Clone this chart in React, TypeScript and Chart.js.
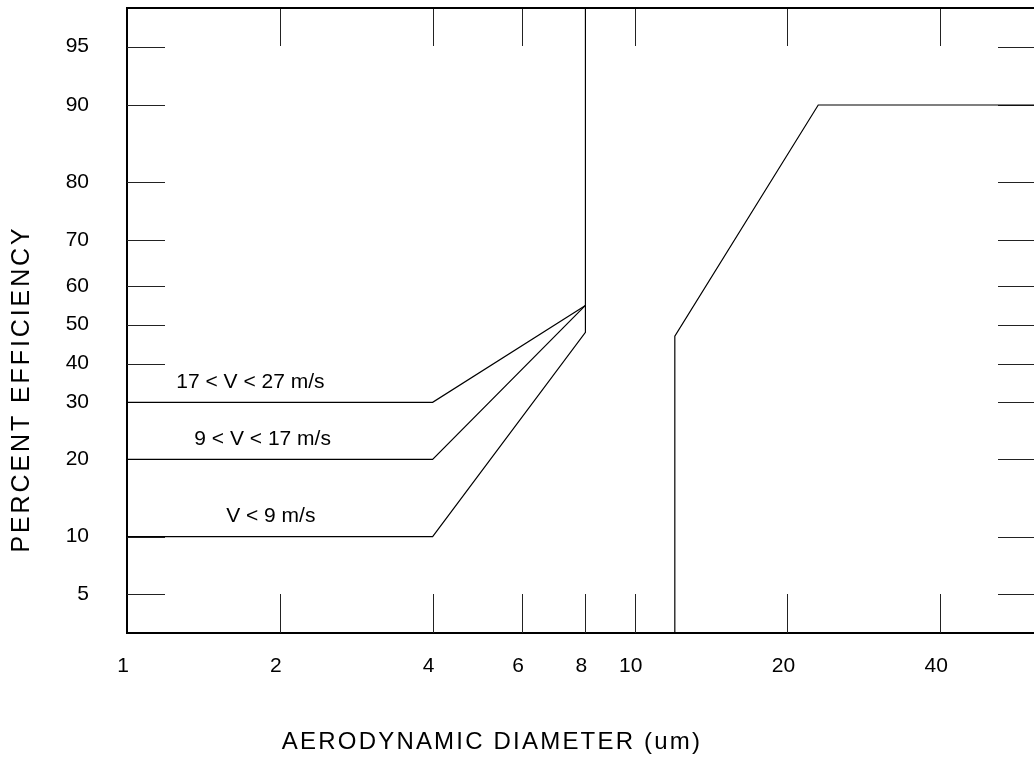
import React, { useEffect, useRef } from 'react';
import { Chart, LinearScale, registerables } from 'chart.js';

Chart.register(...registerables);

// ---------- data ----------
const X_TICKS = [1, 2, 4, 6, 8, 10, 20, 40];
const Y_TICKS = [5, 10, 20, 30, 40, 50, 60, 70, 80, 90, 95];

const SERIES_NAMES = ['17 < V < 27 m/s', '9 < V < 17 m/s', 'V < 9 m/s', 'Large-particle curve'];

const HIGH_X = [1, 4, 8];
const HIGH_Y = [30, 30, 55];

const MID_X = [1, 4, 8];
const MID_Y = [20, 20, 55];

const LOW_X = [1, 4, 8, 8];
const LOW_Y = [10, 10, 48, 100];

const LARGE_X = [12, 12, 23, 70];
const LARGE_Y = [0, 47, 90, 90];

const X_TITLE = 'AERODYNAMIC DIAMETER (um)';
const Y_TITLE = 'PERCENT EFFICIENCY';

// ---------- probability-paper axis calibration ----------
const PAPER_VALUES = [2, 5, 10, 20, 30, 40, 50, 60, 70, 80, 90, 95, 98];
const PAPER_FRACTIONS = [0, 0.0619, 0.1541, 0.2779, 0.3691, 0.4309, 0.4936, 0.5547, 0.6288, 0.7216, 0.8448, 0.9381, 1];

function paperFraction(v: number): number {
  const V = PAPER_VALUES;
  const F = PAPER_FRACTIONS;
  let i = 0;
  if (v <= V[0]) i = 0;
  else if (v >= V[V.length - 1]) i = V.length - 2;
  else {
    while (i < V.length - 2 && v > V[i + 1]) i++;
  }
  const t = (v - V[i]) / (V[i + 1] - V[i]);
  return F[i] + t * (F[i + 1] - F[i]);
}

function paperValue(f: number): number {
  const V = PAPER_VALUES;
  const F = PAPER_FRACTIONS;
  let i = 0;
  if (f <= F[0]) i = 0;
  else if (f >= F[F.length - 1]) i = F.length - 2;
  else {
    while (i < F.length - 2 && f > F[i + 1]) i++;
  }
  const t = (f - F[i]) / (F[i + 1] - F[i]);
  return V[i] + t * (V[i + 1] - V[i]);
}

class ProbabilityScale extends LinearScale {
  static id = 'probability';
  static defaults = {};
  determineDataLimits() {
    (this as any).min = PAPER_VALUES[0];
    (this as any).max = PAPER_VALUES[PAPER_VALUES.length - 1];
  }
  buildTicks() {
    return Y_TICKS.map((value) => ({ value }));
  }
  getPixelForValue(value: number) {
    if (value === null || value === undefined || isNaN(value)) return NaN;
    return (this as any).getPixelForDecimal(paperFraction(value));
  }
  getValueForPixel(pixel: number) {
    return paperValue((this as any).getDecimalForPixel(pixel));
  }
}
Chart.register(ProbabilityScale as any);

const FONT = "'Liberation Sans', Arial, Helvetica, sans-serif";

function pts(xs: number[], ys: number[]) {
  return xs.map((x, i) => ({ x, y: ys[i] }));
}

// ---------- plugins ----------
const frameAndTicks = {
  id: 'frameAndTicks',
  beforeDatasetsDraw(chart: any) {
    const { ctx, chartArea: a, scales } = chart;
    ctx.save();
    ctx.strokeStyle = '#222';
    ctx.lineWidth = 1;
    ctx.beginPath();
    for (const v of X_TICKS) {
      if (v <= scales.x.min) continue;
      const x = Math.round(scales.x.getPixelForValue(v)) + 0.5;
      ctx.moveTo(x, a.bottom);
      ctx.lineTo(x, a.bottom - 39);
      ctx.moveTo(x, a.top);
      ctx.lineTo(x, a.top + 38);
    }
    for (const v of Y_TICKS) {
      const y = Math.round(scales.y.getPixelForValue(v)) + 0.5;
      ctx.moveTo(a.left, y);
      ctx.lineTo(a.left + 38, y);
      ctx.moveTo(a.right - 36, y);
      ctx.lineTo(a.right, y);
    }
    ctx.stroke();
    ctx.restore();
  },
  afterDraw(chart: any) {
    const { ctx, chartArea: a } = chart;
    ctx.save();
    ctx.strokeStyle = '#000';
    ctx.lineWidth = 2;
    ctx.beginPath();
    ctx.moveTo(a.left - 1, a.top);
    ctx.lineTo(a.right, a.top);
    ctx.stroke();
    ctx.restore();
  },
};

const textLayer = {
  id: 'textLayer',
  afterDraw(chart: any, _args: any, opts: any) {
    const { ctx, scales } = chart;
    ctx.save();
    ctx.fillStyle = '#000';
    ctx.textAlign = 'center';
    ctx.textBaseline = 'middle';

    // series labels, placed just above the flat part of each curve
    ctx.font = `21px ${FONT}`;
    (opts.seriesLabels || []).forEach((lab: any) => {
      const ds = chart.data.datasets[lab.dataset];
      const level = ds.data[0].y;
      const x = scales.x.getPixelForValue(lab.atX);
      const y = scales.y.getPixelForValue(level) - lab.lift;
      ctx.fillText(ds.label, x, y);
    });

    const hasLS = 'letterSpacing' in ctx;
    // x title
    ctx.font = `${opts.xTitle.size}px ${FONT}`;
    if (hasLS) ctx.letterSpacing = opts.xTitle.spacing + 'px';
    ctx.fillText(opts.xTitle.text, opts.xTitle.cx, opts.xTitle.cy);
    // y title
    ctx.font = `${opts.yTitle.size}px ${FONT}`;
    if (hasLS) ctx.letterSpacing = opts.yTitle.spacing + 'px';
    ctx.translate(opts.yTitle.cx, opts.yTitle.cy);
    ctx.rotate(-Math.PI / 2);
    ctx.fillText(opts.yTitle.text, 0, 0);
    ctx.restore();
  },
};

export default function App() {
  const ref = useRef<HTMLCanvasElement | null>(null);

  useEffect(() => {
    const canvas = ref.current;
    if (!canvas) return;

    const lineStyle = {
      borderColor: '#000',
      borderWidth: 1.2,
      pointRadius: 0,
      pointHoverRadius: 0,
      fill: false,
      tension: 0,
    };

    const chart = new Chart(canvas, {
      type: 'line',
      data: {
        datasets: [
          { label: SERIES_NAMES[0], data: pts(HIGH_X, HIGH_Y), ...lineStyle },
          { label: SERIES_NAMES[1], data: pts(MID_X, MID_Y), ...lineStyle },
          { label: SERIES_NAMES[2], data: pts(LOW_X, LOW_Y), ...lineStyle },
          { label: SERIES_NAMES[3], data: pts(LARGE_X, LARGE_Y), ...lineStyle },
        ],
      },
      options: {
        responsive: false,
        animation: false,
        events: [],
        layout: { padding: { top: 8, left: 0, right: 0, bottom: 0 } },
        scales: {
          x: {
            type: 'logarithmic',
            min: 1,
            max: 61.2,
            afterBuildTicks: (s: any) => {
              s.ticks = X_TICKS.map((value) => ({ value }));
            },
            afterFit: (s: any) => {
              s.height = 132;
              s.paddingLeft = 0;
              s.paddingRight = 0;
            },
            grid: { display: false, drawTicks: false },
            border: { display: true, color: '#000', width: 2 },
            ticks: {
              autoSkip: false,
              maxRotation: 0,
              minRotation: 0,
              padding: 21,
              labelOffset: -4,
              color: '#000',
              font: { family: FONT, size: 21 },
              callback: (v: any) => String(v),
            },
          },
          y: {
            type: 'probability' as any,
            afterFit: (s: any) => {
              s.width = 127;
              s.paddingTop = 0;
              s.paddingBottom = 0;
            },
            grid: { display: false, drawTicks: false },
            border: { display: true, color: '#000', width: 2 },
            ticks: {
              autoSkip: false,
              padding: 38,
              color: '#000',
              font: { family: FONT, size: 21 },
              callback: (v: any) => String(v),
            },
          },
        },
        plugins: {
          legend: { display: false },
          tooltip: { enabled: false },
          textLayer: {
            seriesLabels: [
              { dataset: 0, atX: 1.75, lift: 20.5 },
              { dataset: 1, atX: 1.85, lift: 20.5 },
              { dataset: 2, atX: 1.92, lift: 20.5 },
            ],
            xTitle: { text: X_TITLE, cx: 492, cy: 742, size: 24, spacing: 2.2 },
            yTitle: { text: Y_TITLE, cx: 22, cy: 389, size: 25, spacing: 2.9 },
          },
        } as any,
      },
      plugins: [frameAndTicks, textLayer],
    } as any);

    return () => chart.destroy();
  }, []);

  return (
    <div style={{ position: 'fixed', left: 0, top: 0, width: 1034, height: 765, background: '#fff' }}>
      <canvas ref={ref} width={1034} height={765} style={{ display: 'block', width: 1034, height: 765 }} />
    </div>
  );
}
